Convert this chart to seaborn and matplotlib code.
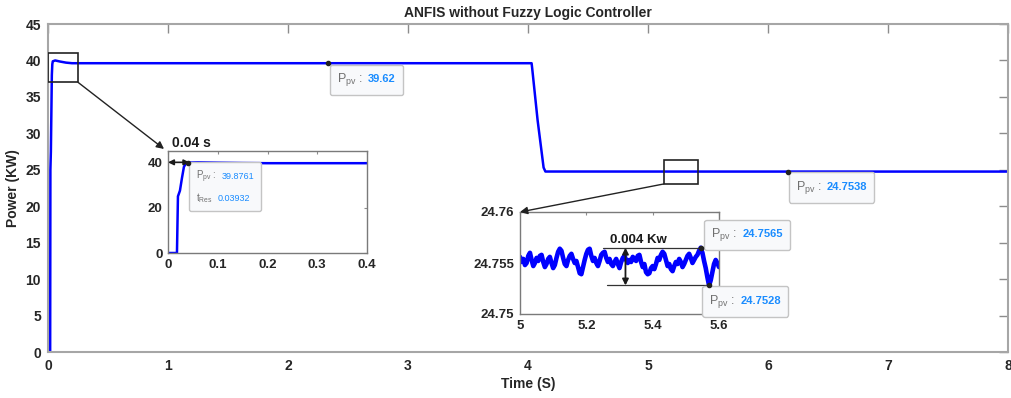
import numpy as np
import pandas as pd
import matplotlib
matplotlib.use("Agg")
import matplotlib.pyplot as plt
import seaborn as sns
from matplotlib.patches import Rectangle, ConnectionPatch
from matplotlib.offsetbox import TextArea, HPacker, VPacker, AnnotationBbox

# ---------------- data ----------------
start_t = [0.0, 0.018, 0.020, 0.024, 0.028, 0.032, 0.036, 0.040, 0.060, 0.100, 0.150, 0.200, 0.400]
start_p = [0.0, 0.0, 25.0, 27.5, 33.0, 38.0, 39.5, 39.88, 40.0, 39.85, 39.70, 39.62, 39.62]

drop_t = [4.030, 4.035, 4.080, 4.111, 4.130, 4.145, 5.000]
drop_p = [39.62, 38.90, 31.80, 27.70, 25.30, 24.76, 24.7538]

noise_t = [round(5.0 + 0.005 * i, 3) for i in range(121)]
noise_p = [24.7556, 24.7551, 24.7554, 24.7548, 24.7550, 24.7557, 24.7560, 24.7553, 24.7547, 24.7550,
           24.7555, 24.7552, 24.7557, 24.7558, 24.7551, 24.7546, 24.7549, 24.7554, 24.7556, 24.7550,
           24.7545, 24.7548, 24.7555, 24.7561, 24.7564, 24.7562, 24.7555, 24.7549, 24.7547, 24.7553,
           24.7557, 24.7559, 24.7554, 24.7550, 24.7552, 24.7546, 24.7540, 24.7539, 24.7546, 24.7553,
           24.7559, 24.7563, 24.7564, 24.7557, 24.7552, 24.7555, 24.7550, 24.7547, 24.7552, 24.7558,
           24.7560, 24.7561, 24.7555, 24.7551, 24.7554, 24.7549, 24.7547, 24.7551, 24.7554, 24.7549,
           24.7545, 24.7551, 24.7555, 24.7557, 24.7553, 24.7550, 24.7553, 24.7551, 24.7556, 24.7554,
           24.7552, 24.7557, 24.7558, 24.7551, 24.7546, 24.7549, 24.7541, 24.7539, 24.7540, 24.7545,
           24.7547, 24.7544, 24.7549, 24.7555, 24.7553, 24.7558, 24.7561, 24.7559, 24.7553, 24.7547,
           24.7549, 24.7544, 24.7542, 24.7547, 24.7551, 24.7549, 24.7554, 24.7551, 24.7546, 24.7549,
           24.7553, 24.7557, 24.7559, 24.7555, 24.7550, 24.7553, 24.7556, 24.7558, 24.7562, 24.7565,
           24.7560, 24.7552, 24.7545, 24.7536, 24.7528, 24.7533, 24.7541, 24.7549, 24.7553, 24.7550,
           24.7546]

end_t = [8.0]
end_p = [24.7538]

main_ticks_x = [0, 1, 2, 3, 4, 5, 6, 7, 8]
main_ticks_y = [0, 5, 10, 15, 20, 25, 30, 35, 40, 45]
in1_ticks_x = [0, 0.1, 0.2, 0.3, 0.4]
in1_labels_x = ["0", "0.1", "0.2", "0.3", "0.4"]
in1_ticks_y = [0, 20, 40]
in2_ticks_x = [5, 5.2, 5.4, 5.6]
in2_labels_x = ["5", "5.2", "5.4", "5.6"]
in2_ticks_y = [24.75, 24.755, 24.76]
in2_labels_y = ["24.75", "24.755", "24.76"]

tip_main1 = (2.33, 39.62, "39.62")
tip_main2 = (6.17, 24.7538, "24.7538")
tip_in1 = (0.03932, 39.8761, "39.8761", "0.03932")
tip_in2_hi = (5.546, 24.7565, "24.7565")
tip_in2_lo = (5.570, 24.7528, "24.7528")

main_df = pd.DataFrame({
    "t": start_t + drop_t + noise_t + end_t,
    "p": start_p + drop_p + noise_p + end_p,
})
start_df = pd.DataFrame({"t": start_t, "p": start_p})
noise_df = pd.DataFrame({"t": noise_t, "p": noise_p})

# ---------------- style ----------------
sns.set_theme(style="white")
plt.rcParams['font.family'] = ['Liberation Sans', 'DejaVu Sans']
plt.rcParams['mathtext.fontset'] = 'custom'
plt.rcParams['mathtext.rm'] = 'Liberation Sans'
plt.rcParams['mathtext.it'] = 'Liberation Sans'

BLUE = "#0000ff"
TIPBLUE = "#1a8cff"
SPINE = "#a6a6a6"
TXT = "#262626"
PAD = 0.45  # box pad in units of 10 pt

fig = plt.figure(figsize=(10.11, 3.98), dpi=100)
W, H = 1011, 398


def px_axes(l, t, r, b):
    return [l / W, 1 - b / H, (r - l) / W, (b - t) / H]


ax = fig.add_axes(px_axes(48, 24, 1008, 352))
sns.lineplot(data=main_df, x="t", y="p", ax=ax, color=BLUE, lw=1.8, sort=False, estimator=None)
ax.set_xlim(0, 8)
ax.set_ylim(0, 45)
ax.set_xticks(main_ticks_x)
ax.set_yticks(main_ticks_y)
ax.set_xlabel("Time (S)", fontsize=10, fontweight="bold", color=TXT, labelpad=3)
ax.set_ylabel("Power (KW)", fontsize=10, fontweight="bold", color=TXT, labelpad=4)
ax.set_title("ANFIS without Fuzzy Logic Controller", fontsize=10, fontweight="bold", color=TXT, pad=5)
for s in ax.spines.values():
    s.set_color(SPINE)
    s.set_linewidth(1.5)
ax.tick_params(direction="in", length=6.5, width=1, color="#8c8c8c", top=True, right=True,
               labelsize=10, labelcolor=TXT, pad=5)
for lab in ax.get_xticklabels() + ax.get_yticklabels():
    lab.set_fontweight("bold")

# zoom rectangles
ax.add_patch(Rectangle((0.0, 37.0), 0.25, 4.0, fill=False, ec="#222222", lw=1.2, zorder=5))
ax.add_patch(Rectangle((5.13, 23.05), 0.29, 3.3, fill=False, ec="#222222", lw=1.2, zorder=5))


def datatip(axis, x, y, rows, frame_off_px, align, fs_lab, fs_val, bold=True):
    """frame_off_px: offset (right, down) in pixels of the frame corner from the point."""
    packs = []
    for lab, val in rows:
        t1 = TextArea(lab, textprops=dict(color="#707070", fontsize=fs_lab))
        t2 = TextArea(val, textprops=dict(color=TIPBLUE, fontsize=fs_val,
                                          fontweight="bold" if bold else "normal"))
        packs.append(HPacker(children=[t1, t2], align="baseline", pad=0, sep=4))
    box = packs[0] if len(packs) == 1 else VPacker(children=packs, align="left", pad=0, sep=4)
    p = PAD * 10
    dx = frame_off_px[0] / (100 / 72) + p
    if align[1] == 1:
        dy = -frame_off_px[1] / (100 / 72) - p
    else:
        dy = -frame_off_px[1] / (100 / 72) + p
    ab = AnnotationBbox(box, (x, y), xybox=(dx, dy), xycoords="data", boxcoords="offset points",
                        box_alignment=align, frameon=True,
                        bboxprops=dict(boxstyle=f"round,pad={PAD},rounding_size=0.15",
                                       fc="#f8f9fb", ec="#c4c4c4", lw=1))
    ab.set_zorder(8)
    axis.add_artist(ab)
    axis.plot([x], [y], "o", color="#222222", ms=3, zorder=9, clip_on=False)


datatip(ax, tip_main1[0], tip_main1[1], [(r"$\mathrm{P_{pv}}$ :", tip_main1[2])], (3, 2), (0, 1), 9, 8)
datatip(ax, tip_main2[0], tip_main2[1], [(r"$\mathrm{P_{pv}}$ :", tip_main2[2])], (1, 1), (0, 1), 9, 8)

# ---------------- inset 1 ----------------
ax1 = fig.add_axes(px_axes(168, 151, 367, 253))
ax1.set_facecolor("white")
sns.lineplot(data=start_df, x="t", y="p", ax=ax1, color=BLUE, lw=1.8, sort=False, estimator=None)
ax1.set_xlim(0, 0.4)
ax1.set_ylim(0, 45)
ax1.set_xticks(in1_ticks_x)
ax1.set_xticklabels(in1_labels_x)
ax1.set_yticks(in1_ticks_y)
ax1.set_xlabel("")
ax1.set_ylabel("")
for s in ax1.spines.values():
    s.set_color("#7a7a7a")
    s.set_linewidth(1)
ax1.tick_params(direction="in", length=2.5, width=0.8, color="#8c8c8c", top=True, right=True,
                labelsize=9.5, labelcolor=TXT, pad=4)
for lab in ax1.get_xticklabels() + ax1.get_yticklabels():
    lab.set_fontweight("bold")
ax1.text(0.008, 45.6, "0.04 s", fontsize=10, fontweight="bold", color="k", ha="left", va="bottom",
         clip_on=False)
ax1.annotate("", xy=(0.0, 40), xytext=(0.043, 40),
             arrowprops=dict(arrowstyle="<|-|>", color="k", lw=1.2, mutation_scale=8,
                             shrinkA=0, shrinkB=0), annotation_clip=False)
datatip(ax1, tip_in1[0], tip_in1[1],
        [(r"$\mathrm{P_{pv}}$ :", tip_in1[2]), (r"$\mathrm{t_{Res}}$", tip_in1[3])],
        (2, 0), (0, 1), 7, 6.5, bold=False)

# ---------------- inset 2 ----------------
ax2 = fig.add_axes(px_axes(520, 212, 719, 314))
ax2.set_facecolor("white")
sns.lineplot(data=noise_df, x="t", y="p", ax=ax2, color=BLUE, lw=3.3, sort=False, estimator=None)
ax2.set_xlim(5.0, 5.6)
ax2.set_ylim(24.75, 24.76)
ax2.set_xticks(in2_ticks_x)
ax2.set_xticklabels(in2_labels_x)
ax2.set_yticks(in2_ticks_y)
ax2.set_yticklabels(in2_labels_y)
ax2.set_xlabel("")
ax2.set_ylabel("")
for s in ax2.spines.values():
    s.set_color("#7a7a7a")
    s.set_linewidth(1)
ax2.tick_params(direction="in", length=2.5, width=0.8, color="#8c8c8c", top=True, right=True,
                labelsize=9.5, labelcolor=TXT, pad=4)
for lab in ax2.get_xticklabels() + ax2.get_yticklabels():
    lab.set_fontweight("bold")
ax2.plot([5.249, tip_in2_hi[0]], [tip_in2_hi[1], tip_in2_hi[1]], color="#333333", lw=0.9, zorder=4)
ax2.plot([5.261, tip_in2_lo[0]], [tip_in2_lo[1], tip_in2_lo[1]], color="#333333", lw=0.9, zorder=4,
         clip_on=False)
ax2.annotate("", xy=(5.318, tip_in2_hi[1]), xytext=(5.318, tip_in2_lo[1]),
             arrowprops=dict(arrowstyle="<|-|>", color="k", lw=1.3, mutation_scale=9,
                             shrinkA=0, shrinkB=0))
ax2.text(5.27, 24.7567, "0.004 Kw", fontsize=9.5, fontweight="bold", color="k", ha="left",
         va="bottom")
datatip(ax2, tip_in2_hi[0], tip_in2_hi[1], [(r"$\mathrm{P_{pv}}$ :", tip_in2_hi[2])],
        (4, 2), (0, 0), 9, 8)
datatip(ax2, tip_in2_lo[0], tip_in2_lo[1], [(r"$\mathrm{P_{pv}}$ :", tip_in2_lo[2])],
        (-6, 1), (0, 1), 9, 8)

# ---------------- connector arrows ----------------
con1 = ConnectionPatch(xyA=(0.25, 37.0), coordsA=ax.transData, xyB=(-0.02, 1.02), coordsB=ax1.transAxes,
                       arrowstyle="-|>", color="#222222", lw=1, mutation_scale=11, zorder=10)
fig.add_artist(con1)
con2 = ConnectionPatch(xyA=(5.13, 23.05), coordsA=ax.transData, xyB=(0.0, 1.0), coordsB=ax2.transAxes,
                       arrowstyle="-|>", color="#222222", lw=1, mutation_scale=11, zorder=10)
fig.add_artist(con2)

fig.savefig("out.png", dpi=100)
